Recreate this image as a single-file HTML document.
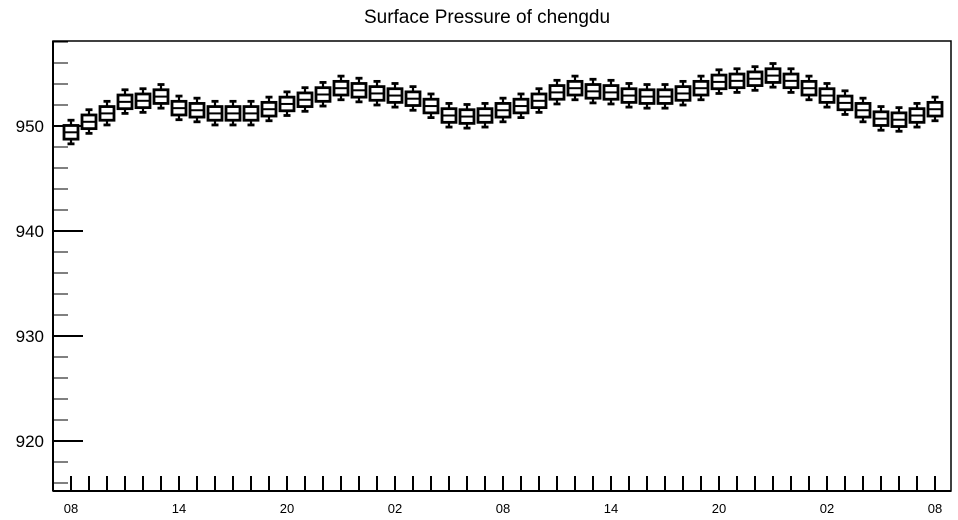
<!DOCTYPE html>
<html><head><meta charset="utf-8"><style>
body{margin:0;background:#fff;}
svg{display:block;font-family:"Liberation Sans",sans-serif;}
</style></head><body>
<svg id="chart" width="958" height="520" viewBox="0 0 958 520">
<text x="487" y="23" text-anchor="middle" font-size="19">Surface Pressure of chengdu</text>
<rect x="53" y="41" width="898" height="450" fill="none" stroke="#000" stroke-width="1.5"/>
<line x1="53" y1="41" x2="53" y2="491" stroke="#000" stroke-width="2"/>
<line x1="53" y1="491" x2="951" y2="491" stroke="#000" stroke-width="2"/>
<g id="axes"></g><g id="boxes"></g>
</svg>
<script>
const xLabels=["08","14","20","02","08","14","20","02","08"];
const yTicks=[920,930,940,950];
const medians=[949.4,950.4,951.2,952.3,952.4,952.8,951.7,951.5,951.2,951.2,951.2,951.6,952.1,952.5,953.0,953.6,953.4,953.1,952.9,952.6,951.9,951.0,950.9,951.0,951.5,951.9,952.4,953.2,953.6,953.3,953.2,952.9,952.8,952.8,953.1,953.6,954.2,954.3,954.5,954.8,954.3,953.6,952.9,952.2,951.5,950.7,950.6,951.0,951.6];
const q1Off=[0.65], q3Off=[0.65], wLoOff=[1.1], wHiOff=[1.15];
const NS="http://www.w3.org/2000/svg";
const y=v=>126-(v-950)*10.5;
const x=i=>71+18*i;
const ax=document.getElementById('axes'), bx=document.getElementById('boxes');
function mk(tag,attrs,parent){const e=document.createElementNS(NS,tag);for(const k in attrs)e.setAttribute(k,attrs[k]);parent.appendChild(e);return e;}
for(let v=916;v<=958;v+=2){
  const major=v%10===0;
  const t=mk('line',{x1:53,x2:major?83:68,y1:y(v),y2:y(v),stroke:'#000','stroke-width':major?2:1},ax);
  
  
}
yTicks.forEach(v=>{
  const t=mk('text',{x:44,y:y(v)+6,'text-anchor':'end','font-size':17},ax);
  t.textContent=v;
  
  
});
medians.forEach((m,i)=>{
  const t=mk('line',{x1:x(i),x2:x(i),y1:491,y2:476,stroke:'#000','stroke-width':2},ax);
  
  
});
xLabels.forEach((l,k)=>{
  const t=mk('text',{x:x(k*6),y:513,'text-anchor':'middle','font-size':13},ax);
  t.textContent=l;
  
  
});
medians.forEach((m,i)=>{
  const g=mk('g',{},bx);
  
  
  const cx=x(i);
  const lo=m-wLoOff[0], hi=m+wHiOff[0], q1=m-q1Off[0], q3=m+q3Off[0];
  mk('line',{x1:cx,x2:cx,y1:y(hi),y2:y(lo),stroke:'#000','stroke-width':2.2},g);
  mk('line',{x1:cx-3.5,x2:cx+3.5,y1:y(hi),y2:y(hi),stroke:'#000','stroke-width':2.8},g);
  mk('line',{x1:cx-3.5,x2:cx+3.5,y1:y(lo),y2:y(lo),stroke:'#000','stroke-width':2.8},g);
  mk('rect',{x:cx-7,y:y(q3),width:14,height:y(q1)-y(q3),fill:'#fff',stroke:'#000','stroke-width':2.8},g);
  mk('line',{x1:cx-7,x2:cx+7,y1:y(m),y2:y(m),stroke:'#000','stroke-width':2},g);
});
</script>
</body></html>
